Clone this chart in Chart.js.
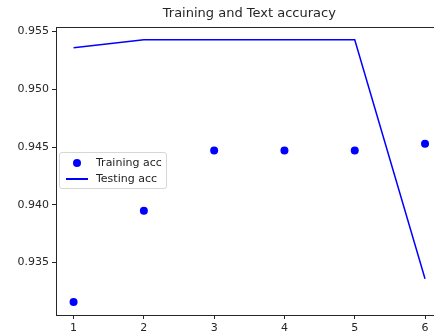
<!DOCTYPE html>
<html>
<head>
<meta charset="utf-8">
<script src="https://cdn.jsdelivr.net/npm/chart.js@4/dist/chart.umd.min.js"></script>
<style>
  html, body { margin: 0; padding: 0; background: #fff; overflow: hidden; }
  #wrap { position: relative; width: 434px; height: 332px; overflow: hidden; }
  #legend {
    position: absolute; left: 59px; top: 152px; width: 106px; height: 35px;
    border: 1px solid #d6d6d6; border-radius: 3px; background: rgba(255,255,255,0.8);
    font: 11px "DejaVu Sans", sans-serif; color: #222;
  }
  .item { position: absolute; left: 0; height: 16px; line-height: 16px; }
  .item span.t { position: absolute; left: 36px; white-space: nowrap; }
  .dot { position: absolute; left: 13px; top: 4px; width: 8px; height: 8px; border-radius: 50%; background: #0000ff; }
  .ln { position: absolute; left: 6px; top: 7px; width: 22px; height: 2px; background: #0000ff; }
</style>
</head>
<body>
<div id="wrap">
  <canvas id="chart" width="460" height="332"></canvas>
  <div id="legend"></div>
</div>
<script>
// Values
const epochs = [1, 2, 3, 4, 5, 6];
const trainingAcc = [0.9316, 0.9395, 0.9447, 0.9447, 0.9447, 0.9453];
const testingAcc = [0.9536, 0.9543, 0.9543, 0.9543, 0.9543, 0.9336];
const yTicks = [0.935, 0.940, 0.945, 0.950, 0.955];
const blue = '#0000ff';
const ink = '#262626';

// matplotlib style 5% margins
const allVals = trainingAcc.concat(testingAcc);
const lo = Math.min(...allVals), hi = Math.max(...allVals);
const yPad = (hi - lo) * 0.05;
const xPad = (epochs[epochs.length - 1] - epochs[0]) * 0.05;

// Frame around the axes, like matplotlib spines
const frame = {
    id: 'frame',
    afterDatasetsDraw(chart) {
        const a = chart.chartArea, ctx = chart.ctx;
        ctx.save();
        ctx.strokeStyle = ink;
        ctx.lineWidth = 1;
        ctx.strokeRect(Math.round(a.left) + 0.5, Math.round(a.top) + 0.5, Math.round(a.right - a.left), Math.round(a.bottom - a.top));
        ctx.restore();
    }
};

new Chart(document.getElementById('chart'), {
    type: 'line',
    data: {
        datasets: [{
            label: 'Training acc',
            data: epochs.map((e, i) => ({ x: e, y: trainingAcc[i] })),
            showLine: false,
            pointRadius: 4,
            pointBackgroundColor: blue,
            pointBorderWidth: 0,
            borderColor: blue
        }, {
            label: 'Testing acc',
            data: epochs.map((e, i) => ({ x: e, y: testingAcc[i] })),
            borderColor: blue,
            borderWidth: 1.5,
            pointRadius: 0,
            tension: 0
        }]
    },
    options: {
        responsive: false,
        animation: false,
        layout: { padding: { top: 0, right: 17.4, bottom: 0, left: 0 } },
        plugins: {
            legend: { display: false },
            tooltip: { enabled: false },
            title: {
                display: true,
                text: 'Training and Text accuracy',
                fullSize: false,
                color: ink,
                font: { family: 'DejaVu Sans', size: 13, weight: 'normal' },
                padding: { top: 6, bottom: 5 }
            }
        },
        scales: {
            x: {
                type: 'linear',
                min: epochs[0] - xPad,
                max: epochs[epochs.length - 1] + xPad,
                afterBuildTicks: s => { s.ticks = epochs.map(v => ({ value: v })); },
                afterFit: s => { s.height = 17; },
                grid: { display: true, drawOnChartArea: false, drawTicks: true, tickLength: 4, color: ink, tickWidth: 1 },
                border: { display: false },
                ticks: { color: ink, padding: 3, font: { family: 'DejaVu Sans', size: 11 }, maxRotation: 0 }
            },
            y: {
                type: 'linear',
                min: lo - yPad,
                max: hi + yPad,
                afterBuildTicks: s => { s.ticks = yTicks.map(v => ({ value: v })); },
                afterFit: s => { s.width = 56; },
                grid: { display: true, drawOnChartArea: false, drawTicks: true, tickLength: 4, color: ink, tickWidth: 1 },
                border: { display: false },
                ticks: {
                    color: ink, padding: 3, font: { family: 'DejaVu Sans', size: 11 },
                    callback: v => v.toFixed(3)
                }
            }
        }
    },
    plugins: [frame]
});

// Legend built from the dataset labels
const legendEl = document.getElementById('legend');
[['dot', 'Training acc'], ['ln', 'Testing acc']].forEach(([kind, text], i) => {
    const row = document.createElement('div');
    row.className = 'item';
    row.style.top = (2 + i * 16) + 'px';
    row.style.width = '100%';
    row.innerHTML = '<div class="' + kind + '"></div><span class="t">' + text + '</span>';
    legendEl.appendChild(row);
});
</script>
</body>
</html>
